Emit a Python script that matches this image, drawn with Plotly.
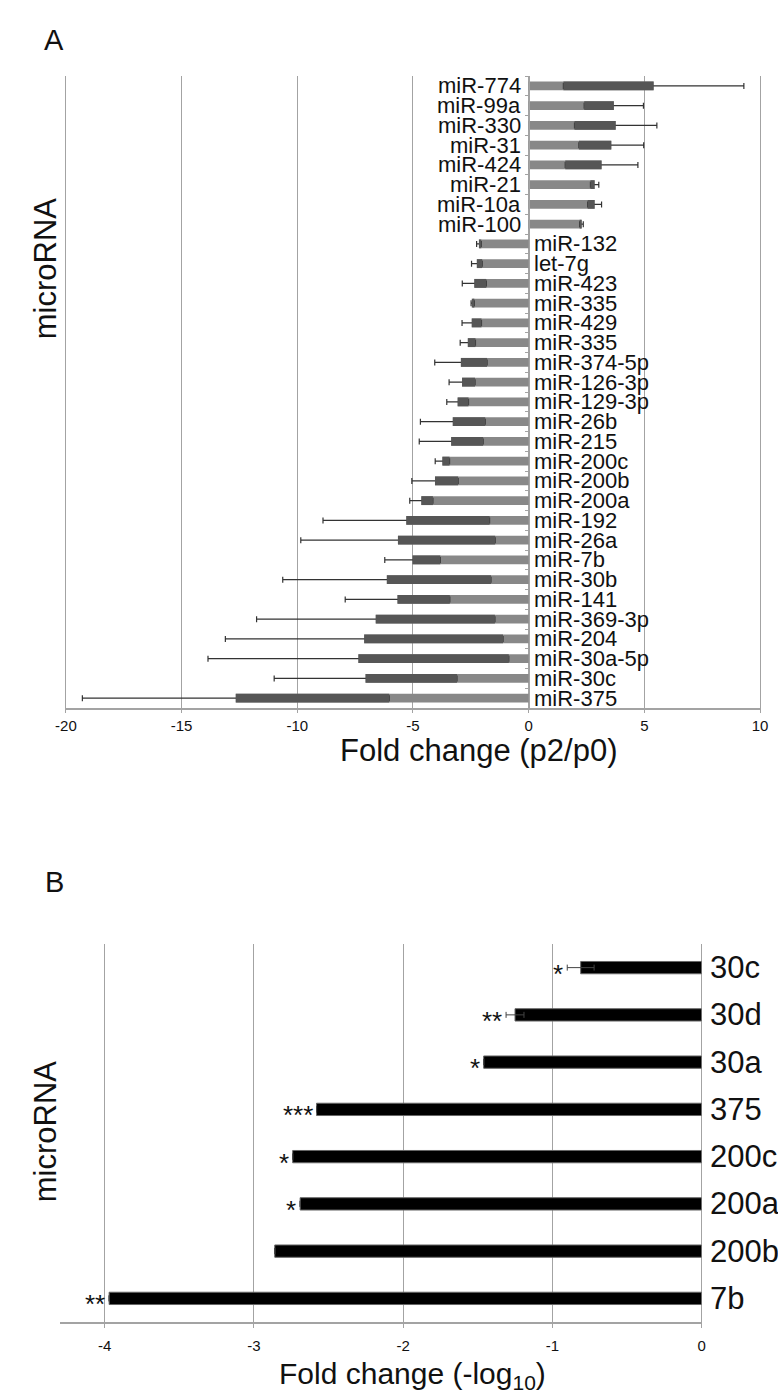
import plotly.graph_objects as go

# ---------------- data ----------------
mirnas_a = ["miR-774", "miR-99a", "miR-330", "miR-31", "miR-424", "miR-21", "miR-10a", "miR-100",
            "miR-132", "let-7g", "miR-423", "miR-335", "miR-429", "miR-335", "miR-374-5p", "miR-126-3p",
            "miR-129-3p", "miR-26b", "miR-215", "miR-200c", "miR-200b", "miR-200a", "miR-192", "miR-26a",
            "miR-7b", "miR-30b", "miR-141", "miR-369-3p", "miR-204", "miR-30a-5p", "miR-30c", "miR-375"]
fold_a = [5.4, 3.68, 3.76, 3.57, 3.15, 2.85, 2.85, 2.28,
          -2.15, -2.24, -2.35, -2.42, -2.46, -2.63, -2.93, -2.88,
          -3.07, -3.28, -3.35, -3.73, -4.05, -4.64, -5.29, -5.65,
          -5.02, -6.13, -5.67, -6.61, -7.11, -7.36, -7.05, -12.66]
err_a = [3.9, 1.28, 1.78, 1.4, 1.57, 0.18, 0.3, 0.08,
         0.1, 0.23, 0.52, 0.07, 0.42, 0.33, 1.13, 0.56,
         0.47, 1.4, 1.38, 0.31, 1.0, 0.5, 3.6, 4.2,
         1.2, 4.5, 2.26, 5.15, 6.0, 6.5, 3.95, 6.63]
ticks_a = [-20, -15, -10, -5, 0, 5, 10]

mirnas_b = ["30c", "30d", "30a", "375", "200c", "200a", "200b", "7b"]
fold_b = [-0.81, -1.25, -1.46, -2.58, -2.74, -2.69, -2.86, -3.97]
err_b = [0.09, 0.06, 0, 0, 0, 0, 0, 0]
stars_b = ["*", "**", "*", "***", "*", "*", "", "**"]
ticks_b = [-4, -3, -2, -1, 0]

# ---------------- layout helpers ----------------
W, H = 778, 1393
def fx(px):
    return px / W
def fy(px):
    return 1 - px / H

GRID = "#a3a3a3"
TXT = "#111111"
SANS = "Liberation Sans, Arial, sans-serif"

ya = list(range(len(mirnas_a)))
yb = list(range(len(mirnas_b)))
# dark band inside each bar = the part of the error range lying inside the bar
dark_len = [-(v / abs(v)) * min(e, abs(v)) for v, e in zip(fold_a, err_a)]

fig = go.Figure()
fig.add_trace(go.Bar(
    x=fold_a, y=ya, orientation="h", width=0.45,
    marker=dict(color="#888888", line=dict(width=0)),
    error_x=dict(type="data", array=err_a, color="#333333", thickness=1.2, width=3),
    xaxis="x", yaxis="y", showlegend=False, hoverinfo="skip"))
fig.add_trace(go.Bar(
    x=dark_len, base=fold_a, y=ya, orientation="h", width=0.45,
    marker=dict(color="#565656", line=dict(width=0)),
    xaxis="x", yaxis="y", showlegend=False, hoverinfo="skip"))
fig.add_trace(go.Bar(
    x=fold_b, y=yb, orientation="h", width=0.26,
    marker=dict(color="#000000", line=dict(color="#666666", width=1)),
    error_x=dict(type="data", array=err_b, color="#444444", thickness=1, width=3),
    xaxis="x2", yaxis="y2", showlegend=False, hoverinfo="skip"))

xdomA = [fx(56), fx(768)]
padA = 0.05
rngA = [ticks_a[0] - padA, ticks_a[-1] + padA]
yaxis_pos = xdomA[0] + (0 - rngA[0]) / (rngA[1] - rngA[0]) * (xdomA[1] - xdomA[0])

annotations = []
for i, (name, v) in enumerate(zip(mirnas_a, fold_a)):
    annotations.append(dict(x=0, y=i, xref="x", yref="y", text=name, showarrow=False,
                            xanchor="right" if v > 0 else "left", yanchor="middle",
                            xshift=-6 if v > 0 else 3,
                            font=dict(family=SANS, size=22, color=TXT)))
for i, name in enumerate(mirnas_b):
    annotations.append(dict(x=0, y=i, xref="x2", yref="y2", text=name, showarrow=False,
                            xanchor="left", yanchor="middle", xshift=6,
                            font=dict(family=SANS, size=31, color=TXT)))
for i, (s, v, e) in enumerate(zip(stars_b, fold_b, err_b)):
    if s:
        annotations.append(dict(x=v - e, y=i, xref="x2", yref="y2", text=s, showarrow=False,
                                xanchor="right", yanchor="middle", xshift=-2, yshift=-6,
                                font=dict(family=SANS, size=26, color=TXT)))

def label(x, y, text, size, angle=0):
    return dict(x=fx(x), y=fy(y), xref="paper", yref="paper", text=text, showarrow=False,
                xanchor="center", yanchor="middle", textangle=angle,
                font=dict(family=SANS, size=size, color=TXT))

annotations += [
    label(45, 40, "A", 29),
    label(46, 882, "B", 29),
    label(36, 268, "microRNA", 31, -90),
    label(36, 1131, "microRNA", 31, -90),
    label(479, 751, "Fold change (p2/p0)", 31),
    label(411, 1375, "Fold change (-log<sub>10</sub>)", 30),
]

fig.update_layout(
    width=W, height=H, margin=dict(l=0, r=0, t=0, b=0),
    paper_bgcolor="white", plot_bgcolor="white", barmode="overlay",
    xaxis=dict(domain=xdomA, range=rngA, tickvals=ticks_a, ticktext=[str(t) for t in ticks_a],
               showgrid=True, gridcolor=GRID, gridwidth=1, zeroline=False,
               showline=True, linecolor=GRID, linewidth=2, ticks="outside", ticklen=3,
               tickcolor=GRID, tickfont=dict(family=SANS, size=15, color=TXT), anchor="y"),
    yaxis=dict(domain=[fy(708), fy(76)], range=[len(mirnas_a) - 0.5, -0.5],
               showgrid=False, zeroline=False, showticklabels=False,
               anchor="free", position=yaxis_pos, showline=True, linecolor=GRID, linewidth=1,
               ticks="outside", ticklen=4, tickcolor=GRID,
               tickvals=[i - 0.5 for i in range(len(mirnas_a) + 1)]),
    xaxis2=dict(domain=[fx(51), fx(707)], range=[-4.3, 0], tickvals=ticks_b,
                ticktext=[str(t) for t in ticks_b],
                showgrid=True, gridcolor=GRID, gridwidth=1, zeroline=True, zerolinecolor=GRID,
                zerolinewidth=1, showline=True, linecolor=GRID, linewidth=2, ticks="outside",
                ticklen=4, tickcolor=GRID, ticklabelstandoff=5,
                tickfont=dict(family=SANS, size=15, color=TXT), anchor="y2"),
    yaxis2=dict(domain=[fy(1322), fy(944)], range=[len(mirnas_b) - 0.5, -0.5],
                showgrid=False, zeroline=False, showticklabels=False, showline=False,
                anchor="x2"),
    annotations=annotations,
)

fig.write_html("out.html", config={"displayModeBar": False},
               post_script="document.body.style.margin='0';document.body.style.overflow='hidden';")
